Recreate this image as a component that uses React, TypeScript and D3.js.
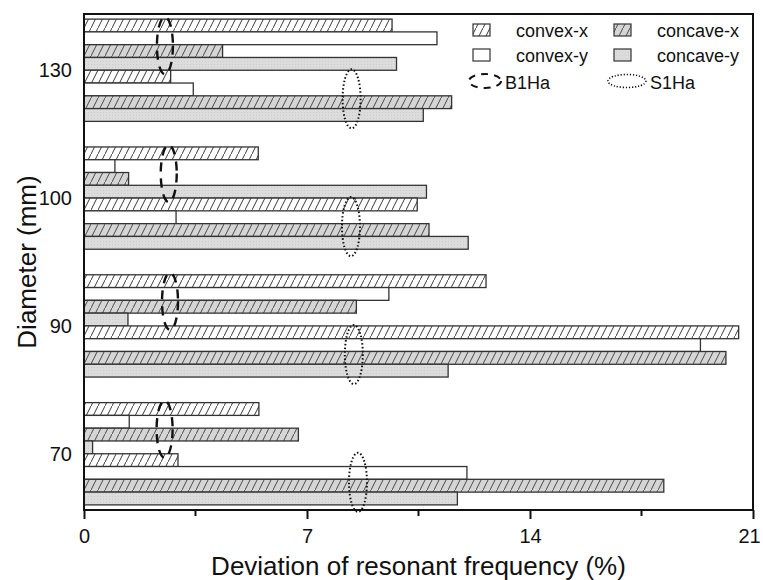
import React, { useEffect, useRef } from 'react';
import * as d3 from 'd3';

// diameters top to bottom
const DIAMETERS = ['130', '100', '90', '70'];
const SERIES = ['convex-x', 'convex-y', 'concave-x', 'concave-y'];
const MODES = ['B1Ha', 'S1Ha'];

// deviation (%) per diameter, same order as DIAMETERS
const B1HA_CONVEX_X = [9.67, 5.47, 12.62, 5.49];
const B1HA_CONVEX_Y = [11.08, 0.97, 9.57, 1.42];
const B1HA_CONCAVE_X = [4.35, 1.4, 8.55, 6.73];
const B1HA_CONCAVE_Y = [9.81, 10.75, 1.38, 0.27];
const S1HA_CONVEX_X = [2.72, 10.46, 20.55, 2.95];
const S1HA_CONVEX_Y = [3.43, 2.89, 19.35, 12.02];
const S1HA_CONCAVE_X = [11.54, 10.83, 20.15, 18.2];
const S1HA_CONCAVE_Y = [10.65, 12.06, 11.43, 11.72];

// where the mode ellipses sit on the x axis
const B1HA_MARK = [2.54, 2.66, 2.7, 2.53];
const S1HA_MARK = [8.4, 8.38, 8.47, 8.6];

const X_TICKS = [0, 7, 14, 21];
const X_MINOR = [3.5, 10.5, 17.5];

const WIDTH = 763;
const HEIGHT = 580;
const M = { left: 84, right: 10, top: 14, bottom: 70 };
const FONT = '"Liberation Sans", Arial, sans-serif';

const FILLS: Record<string, string> = {
  'convex-x': 'url(#hatchWhite)',
  'convex-y': '#ffffff',
  'concave-x': 'url(#hatchGray)',
  'concave-y': 'url(#dotGray)',
};

const App = () => {
  const ref = useRef<SVGSVGElement | null>(null);

  useEffect(() => {
    const svg = d3.select(ref.current);
    svg.selectAll('*').remove();

    const x0 = M.left;
    const x1 = WIDTH - M.right;
    const y0 = M.top;
    const y1 = HEIGHT - M.bottom;

    const xScale = d3.scaleLinear().domain([0, 21]).range([x0, x1]);
    const yGroup = d3.scaleBand().domain(DIAMETERS).range([y0, y1]).paddingInner(0.2).paddingOuter(0.04);
    const barKeys = MODES.flatMap((m) => SERIES.map((s) => m + '|' + s));
    const yBar = d3.scaleBand().domain(barKeys).range([0, yGroup.bandwidth()]);

    const values: Record<string, number[]> = {
      'B1Ha|convex-x': B1HA_CONVEX_X,
      'B1Ha|convex-y': B1HA_CONVEX_Y,
      'B1Ha|concave-x': B1HA_CONCAVE_X,
      'B1Ha|concave-y': B1HA_CONCAVE_Y,
      'S1Ha|convex-x': S1HA_CONVEX_X,
      'S1Ha|convex-y': S1HA_CONVEX_Y,
      'S1Ha|concave-x': S1HA_CONCAVE_X,
      'S1Ha|concave-y': S1HA_CONCAVE_Y,
    };

    // patterns
    const defs = svg.append('defs');
    const hatch = (id: string, bg: string, line: string) => {
      const p = defs.append('pattern').attr('id', id).attr('patternUnits', 'userSpaceOnUse')
        .attr('width', 7).attr('height', 14);
      p.append('rect').attr('width', 7).attr('height', 14).attr('fill', bg);
      p.append('path').attr('d', 'M-1,16 L8,-2').attr('stroke', line).attr('stroke-width', 1);
    };
    hatch('hatchWhite', '#ffffff', '#3a3a3a');
    hatch('hatchGray', '#d5d5d5', '#4a4a4a');
    const dots = defs.append('pattern').attr('id', 'dotGray').attr('patternUnits', 'userSpaceOnUse')
      .attr('width', 3).attr('height', 3);
    dots.append('rect').attr('width', 3).attr('height', 3).attr('fill', '#dcdcdc');
    dots.append('rect').attr('x', 1).attr('y', 1).attr('width', 1).attr('height', 1).attr('fill', '#cdcdcd');

    // bars
    const rows = DIAMETERS.flatMap((d, i) => barKeys.map((k) => ({ d, k, v: values[k][i] })));
    svg.append('g').selectAll('rect').data(rows).enter().append('rect')
      .attr('x', xScale(0))
      .attr('y', (r) => (yGroup(r.d) as number) + (yBar(r.k) as number))
      .attr('width', (r) => xScale(r.v) - xScale(0))
      .attr('height', yBar.bandwidth())
      .attr('fill', (r) => FILLS[r.k.split('|')[1]])
      .attr('stroke', '#333')
      .attr('stroke-width', 1.3);

    // mode ellipses
    const sub = yBar.bandwidth() * 4;
    const marks = svg.append('g').attr('fill', 'none').attr('stroke', '#111');
    DIAMETERS.forEach((d, i) => {
      const gy = yGroup(d) as number;
      marks.append('ellipse')
        .attr('cx', xScale(B1HA_MARK[i])).attr('cy', gy + sub / 2 + 1)
        .attr('rx', 8).attr('ry', sub / 2 + 3)
        .attr('stroke-width', 2.4).attr('stroke-dasharray', '9,7');
      marks.append('ellipse')
        .attr('cx', xScale(S1HA_MARK[i])).attr('cy', gy + sub * 1.5 + 3)
        .attr('rx', 9).attr('ry', sub / 2 + 4)
        .attr('stroke-width', 2).attr('stroke-dasharray', '1.5,2.2');
    });

    // frame
    svg.append('rect').attr('x', x0).attr('y', y0).attr('width', x1 - x0).attr('height', y1 - y0)
      .attr('fill', 'none').attr('stroke', '#111').attr('stroke-width', 2);

    // x axis
    const axis = svg.append('g').attr('transform', `translate(0,${y1})`);
    axis.call(d3.axisBottom(xScale).tickValues(X_TICKS).tickSize(9).tickFormat(d3.format('d')))
      .call((g) => g.select('.domain').remove())
      .call((g) => g.selectAll('line').attr('stroke', '#111').attr('stroke-width', 2))
      .call((g) => g.selectAll('text').attr('font-family', FONT).attr('font-size', 20).attr('fill', '#111').attr('dy', '1.05em'))
      .call((g) => g.selectAll('.tick').filter((d) => d === 21).select('text').attr('dx', -4));
    axis.selectAll('.minor').data(X_MINOR).enter().append('line')
      .attr('x1', (d) => xScale(d)).attr('x2', (d) => xScale(d))
      .attr('y1', 0).attr('y2', 6).attr('stroke', '#111').attr('stroke-width', 2);

    // y labels
    svg.append('g').selectAll('text').data(DIAMETERS).enter().append('text')
      .attr('x', x0 - 12)
      .attr('y', (d) => (yGroup(d) as number) + yGroup.bandwidth() / 2)
      .attr('dy', '0.35em')
      .attr('text-anchor', 'end')
      .attr('font-family', FONT).attr('font-size', 20).attr('fill', '#111')
      .text((d) => d);

    // titles
    svg.append('text').attr('x', (x0 + x1) / 2).attr('y', 575).attr('text-anchor', 'middle')
      .attr('font-family', FONT).attr('font-size', 26).attr('fill', '#111')
      .text('Deviation of resonant frequency (%)');
    svg.append('text').attr('transform', `translate(36,${(y0 + y1) / 2}) rotate(-90)`)
      .attr('text-anchor', 'middle')
      .attr('font-family', FONT).attr('font-size', 26).attr('fill', '#111')
      .text('Diameter (mm)');

    // legend
    const legend = svg.append('g').attr('font-family', FONT).attr('font-size', 18).attr('fill', '#111');
    const cols = [473, 614];
    const legendItems = [
      { s: 'convex-x', col: 0, row: 0 },
      { s: 'concave-x', col: 1, row: 0 },
      { s: 'convex-y', col: 0, row: 1 },
      { s: 'concave-y', col: 1, row: 1 },
    ];
    legendItems.forEach((it) => {
      const lx = cols[it.col];
      const ly = 24 + it.row * 25;
      legend.append('rect').attr('x', lx).attr('y', ly).attr('width', 17).attr('height', 12)
        .attr('fill', FILLS[it.s]).attr('stroke', '#333').attr('stroke-width', 1.2);
      legend.append('text').attr('x', lx + 43).attr('y', ly + 13).text(it.s);
    });
    legend.append('ellipse').attr('cx', 485).attr('cy', 81).attr('rx', 16).attr('ry', 7)
      .attr('fill', 'none').attr('stroke', '#111').attr('stroke-width', 2).attr('stroke-dasharray', '7,6');
    legend.append('text').attr('x', 505).attr('y', 89).text('B1Ha');
    legend.append('ellipse').attr('cx', 627).attr('cy', 81).attr('rx', 19).attr('ry', 6.5)
      .attr('fill', 'none').attr('stroke', '#111').attr('stroke-width', 1.6).attr('stroke-dasharray', '1.2,1.8');
    legend.append('text').attr('x', 650).attr('y', 89).text('S1Ha');
  }, []);

  return (
    <svg ref={ref} width={WIDTH} height={HEIGHT}
      style={{ position: 'absolute', left: 0, top: 0, background: '#fff' }} />
  );
};

export default App;
